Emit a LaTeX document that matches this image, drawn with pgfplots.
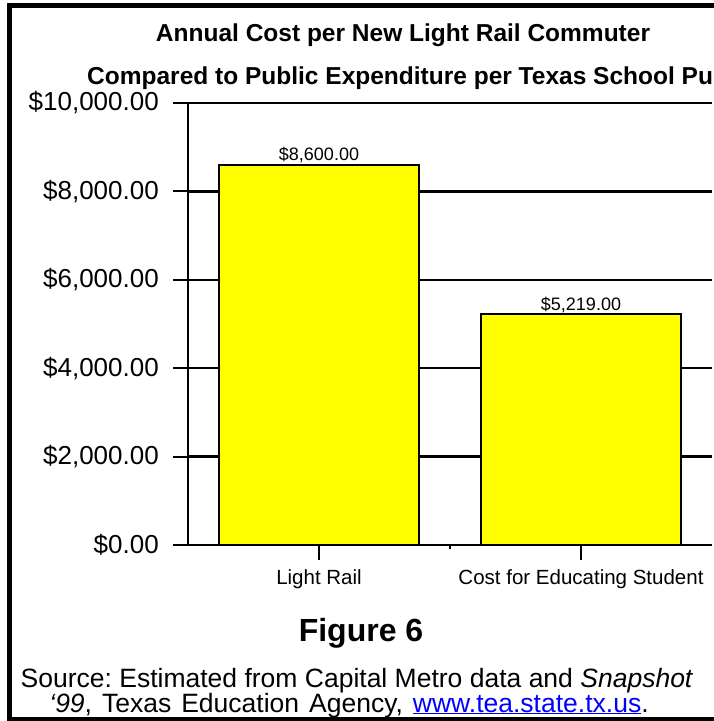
\documentclass[border=0pt]{standalone}
\usepackage{pgfplots}
\pgfplotsset{compat=1.18}
\usepackage{fontspec}
\setmainfont{Liberation Sans}
\definecolor{baryellow}{RGB}{255,255,0}
\definecolor{linkblue}{RGB}{0,0,255}
\newcommand{\fs}[1]{\fontsize{#1}{#1}\selectfont}
\frenchspacing
\begin{document}
\begin{tikzpicture}
\useasboundingbox (0pt,0pt) rectangle (714pt,721pt);
\fill[white] (0pt,0pt) rectangle (714pt,721pt);
\begin{scope}
\clip (0pt,0pt) rectangle (714pt,721pt);
\draw[line width=5pt] (730pt,715.5pt) -- (9.5pt,715.5pt) -- (9.5pt,1pt) -- (730pt,1pt);
\node[font=\fs{24.5}\bfseries, anchor=base] at (403pt,679pt) {Annual Cost per New Light Rail Commuter};
\node[font=\fs{24.5}\bfseries, anchor=base west, inner sep=0pt] at (87pt,636pt) {Compared to Public Expenditure per Texas School Pupil};
\end{scope}
\begin{axis}[
  at={(188pt,176pt)}, anchor=south west,
  scale only axis, width=524pt, height=442pt,
  xmin=-0.5, xmax=1.5, ymin=0, ymax=10000,
  axis x line=bottom, axis y line=left,
  axis line style={-, line width=2pt, black},
  ymajorgrids, grid style={black, line width=2.5pt},
  ytick={0,2000,4000,6000,8000,10000},
  yticklabel={\$\pgfmathprintnumber[fixed,fixed zerofill,precision=2,1000 sep={,},assume math mode=true]{\tick}},
  yticklabel style={font=\fs{26}, inner sep=0pt, anchor=east, xshift=-14pt},
  scaled y ticks=false,
  xtick={0,1}, xticklabels={Light Rail, Cost for Educating Student},
  xticklabel style={font=\fs{20.5}, inner sep=0pt, anchor=base, yshift=-25pt},
  extra x ticks={0.5}, extra x tick labels={},
  extra x tick style={major tick length=4pt},
  tick align=outside, major tick length=15pt,
  tick style={black, line width=2pt},
]
\addplot[ybar, bar width=200pt, fill=baryellow, draw=black, line width=2.2pt,
  nodes near coords={\$\pgfmathprintnumber[fixed,fixed zerofill,precision=2,1000 sep={,},assume math mode=true]{\pgfplotspointmeta}},
  nodes near coords style={font=\fs{18}, inner sep=0pt, anchor=base, yshift=4pt, black}]
  coordinates {(0,8600) (1,5219)};
\end{axis}
\node[font=\fs{32}\bfseries, anchor=base] at (361pt,79pt) {Figure 6};
\node[font=\fs{26.5}, anchor=base] at (357pt,34pt) {Source: Estimated from Capital Metro data and \textit{Snapshot}};
\node[font=\fs{26.5}, anchor=base] at (349pt,9pt) {\spaceskip=10pt plus 1pt\textit{‘99}, Texas Education Agency, \textcolor{linkblue}{\underline{www.tea.state.tx.us}}.};
\end{tikzpicture}
\end{document}
